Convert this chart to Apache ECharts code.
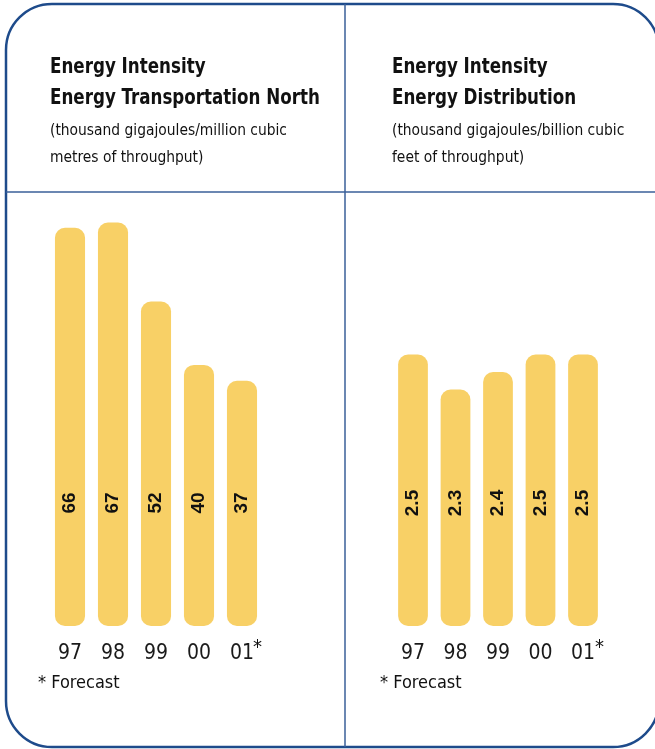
<!DOCTYPE html>
<html><head><meta charset="utf-8">
<script src="https://cdn.jsdelivr.net/npm/echarts@6/dist/echarts.min.js"></script>
<style>html,body{margin:0;padding:0;background:#fff}#c{width:655px;height:749px}</style>
</head><body><div id="c"></div>
<script>
const years = ['97', '98', '99', '00', '01'];
const transportValues = [66, 67, 52, 40, 37];
const distributionValues = [2.5, 2.3, 2.4, 2.5, 2.5];
const transportTitle = ['Energy Intensity', 'Energy Transportation North'];
const transportUnit = ['(thousand gigajoules/million cubic', 'metres of throughput)'];
const distributionTitle = ['Energy Intensity', 'Energy Distribution'];
const distributionUnit = ['(thousand gigajoules/billion cubic', 'feet of throughput)'];
const footnote = '* Forecast';

const BAR = '#F8D066';
const NAVY = '#1E4B8B';
const LINE = '#3A5F98';
const NARROW = '"Liberation Sans Narrow", "DejaVu Sans Condensed", sans-serif';

const T_MIN = -9.5, T_MAX = 70.5;
const D_MIN = 0.95, D_MAX = 3.36;

function barRenderer(axisMin, fmt) {
  return function (params, api) {
    const idx = api.value(0);
    const v = api.value(1);
    const top = api.coord([idx, v]);
    const bottom = api.coord([idx, axisMin]);
    const band = api.size([1, 0])[0];
    const w = band * 0.7;
    return {
      type: 'group',
      children: [
        { type: 'rect', shape: { x: top[0] - w / 2, y: top[1], width: w, height: bottom[1] - top[1], r: 10 },
          style: { fill: BAR } },
        { type: 'text', x: top[0], y: bottom[1] - 123, rotation: Math.PI / 2,
          style: { text: fmt(v), fill: '#111', font: 'bold 19px "Liberation Sans", Arial, sans-serif',
                   align: 'center', verticalAlign: 'middle' } }
      ]
    };
  };
}

function axisX(gi) {
  return {
    type: 'category', gridIndex: gi, data: years,
    axisLine: { show: false }, axisTick: { show: false },
    axisLabel: { fontSize: 21, fontFamily: NARROW, color: '#1a1a1a', margin: 17 }
  };
}

function textEl(x, y, text, font, sx) {
  return { type: 'text', x: x, y: y, scaleX: sx || 1, silent: true,
    style: { text: text, font: font, fill: '#111', align: 'left', verticalAlign: 'middle' } };
}

const titleFont = 'bold 21px ' + NARROW;
const unitFont = '16px ' + NARROW;
const footFont = '18px ' + NARROW;
const TSX = 0.885, USX = 0.962;

const chart = echarts.init(document.getElementById('c'), null, { renderer: 'canvas' });
chart.setOption({
  animation: false,
  backgroundColor: '#fff',
  grid: [
    { left: 48.5, width: 215, top: 204, height: 422 },
    { left: 391.75, width: 212.5, top: 204, height: 422 }
  ],
  xAxis: [axisX(0), axisX(1)],
  yAxis: [
    { type: 'value', gridIndex: 0, min: T_MIN, max: T_MAX, show: false },
    { type: 'value', gridIndex: 1, min: D_MIN, max: D_MAX, show: false }
  ],
  series: [
    { type: 'custom', xAxisIndex: 0, yAxisIndex: 0,
      renderItem: barRenderer(T_MIN, v => String(v)),
      data: transportValues.map((v, i) => [i, v]) },
    { type: 'custom', xAxisIndex: 1, yAxisIndex: 1,
      renderItem: barRenderer(D_MIN, v => v.toFixed(1)),
      data: distributionValues.map((v, i) => [i, v]) }
  ],
  graphic: [
    { type: 'rect', silent: true, shape: { x: 6, y: 4, width: 653, height: 743, r: 46 },
      style: { fill: 'none', stroke: NAVY, lineWidth: 2.5 } },
    { type: 'line', silent: true, shape: { x1: 345, y1: 4, x2: 345, y2: 747 },
      style: { stroke: LINE, lineWidth: 1.5 } },
    { type: 'line', silent: true, shape: { x1: 6, y1: 192, x2: 659, y2: 192 },
      style: { stroke: LINE, lineWidth: 1.5 } },
    textEl(50, 68, transportTitle[0], titleFont, TSX),
    textEl(50, 99, transportTitle[1], titleFont, TSX),
    textEl(50, 131, transportUnit[0], unitFont, USX),
    textEl(50, 158, transportUnit[1], unitFont, USX),
    textEl(392, 68, distributionTitle[0], titleFont, TSX),
    textEl(392, 99, distributionTitle[1], titleFont, TSX),
    textEl(392, 131, distributionUnit[0], unitFont, USX),
    textEl(392, 158, distributionUnit[1], unitFont, USX),
    textEl(38, 683, footnote, footFont, 1),
    textEl(380, 683, footnote, footFont, 1),
    textEl(253, 648, '*', '20px ' + NARROW),
    textEl(595, 648, '*', '20px ' + NARROW)
  ]
});
</script></body></html>
